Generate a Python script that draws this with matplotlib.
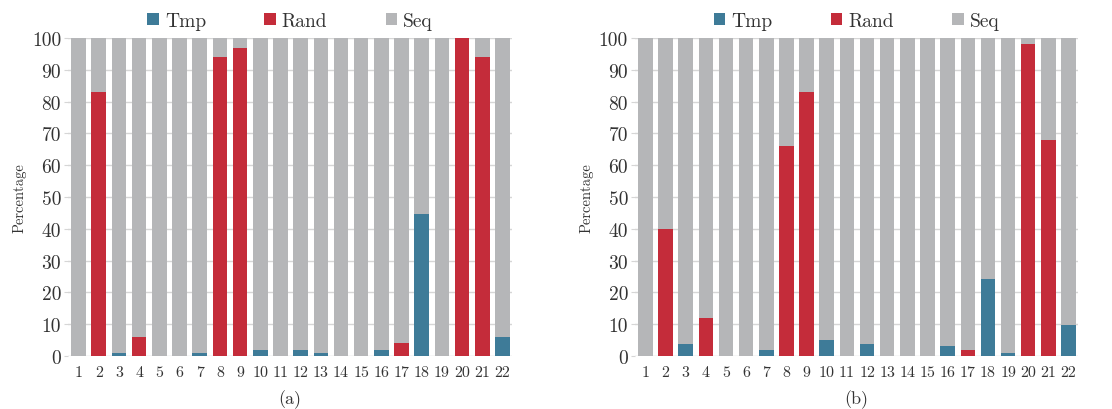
import numpy as np
import matplotlib
matplotlib.use('Agg')
import matplotlib.pyplot as plt

plt.rcParams['font.family'] = ['cmr10', 'DejaVu Serif']
plt.rcParams['axes.formatter.use_mathtext'] = True
plt.rcParams['text.color'] = '#222222'

# ── data ──────────────────────────────────────────────────────────────────────
apps = list(range(1, 23))

tmp_a  = [0, 0, 1, 0, 0, 0, 1, 0, 0, 2, 0, 2, 1, 0, 0, 2, 0, 44.7, 0, 0, 0, 6]
rand_a = [0, 83, 0, 6, 0, 0, 0, 94, 97, 0, 0, 0, 0, 0, 0, 0, 4, 0, 0, 100, 94, 0]

tmp_b  = [0, 0, 3.8, 0, 0, 0, 2, 0, 0, 5, 0, 3.8, 0, 0, 0, 3, 0, 24.2, 1, 0, 0, 9.7]
rand_b = [0, 40, 0, 12, 0, 0, 0, 66, 83, 0, 0, 0, 0, 0, 0, 0, 2, 0, 0, 98, 68, 0]

C_TMP  = '#3e7b98'
C_RAND = '#c42c3a'
C_SEQ  = '#b5b6b8'
C_GRID = '#d6d6d6'


def draw(ax, tmp, rand, caption):
    tmp = np.array(tmp, dtype=float)
    rand = np.array(rand, dtype=float)
    seq = 100 - tmp - rand
    x = np.array(apps)
    w = 0.72
    ax.bar(x, tmp, w, color=C_TMP, label='Tmp', zorder=2)
    ax.bar(x, rand, w, bottom=tmp, color=C_RAND, label='Rand', zorder=2)
    ax.bar(x, seq, w, bottom=tmp + rand, color=C_SEQ, label='Seq', zorder=2)

    ax.set_xlim(0.48, 22.47)
    ax.set_ylim(0, 100)
    ax.set_yticks(range(0, 101, 10))
    ax.set_yticklabels([str(v) for v in range(0, 101, 10)], fontsize=14,
                       color='#333333')
    ax.set_xticks(x)
    ax.set_xticklabels([str(v) for v in apps], fontsize=11.5, color='#333333')
    ax.yaxis.grid(True, color=C_GRID, linewidth=1.0, zorder=0)
    ax.tick_params(axis='y', length=3, color=C_GRID, pad=2)
    ax.tick_params(axis='x', length=0, pad=7)
    for s in ax.spines.values():
        s.set_visible(False)
    ax.set_ylabel('Percentage', fontsize=10.5, labelpad=4, color='#333333')
    ax.set_xlabel(caption, fontsize=13, labelpad=7, color='#333333')
    leg = ax.legend(loc='lower center', bbox_to_anchor=(0.5, 0.995), ncol=3,
                    frameon=False, fontsize=14, handlelength=0.6,
                    handleheight=0.6, handletextpad=0.3, columnspacing=3.0,
                    borderaxespad=0.1)
    for t in leg.get_texts():
        t.set_color('#333333')


fig = plt.figure(figsize=(11.12, 4.10), dpi=100)
ax1 = fig.add_axes([0.0612, 0.1293, 0.3992, 0.7756])
ax2 = fig.add_axes([0.5710, 0.1293, 0.3984, 0.7756])
draw(ax1, tmp_a, rand_a, '(a)')
draw(ax2, tmp_b, rand_b, '(b)')

fig.savefig('out.png', dpi=100)
